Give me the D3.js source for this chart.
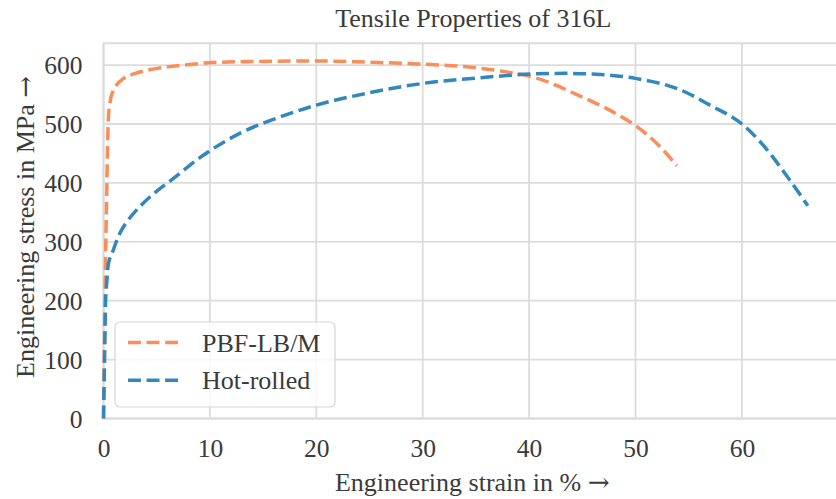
<!DOCTYPE html>
<html>
<head>
<meta charset="utf-8">
<script src="https://cdn.jsdelivr.net/npm/d3@7"></script>
<style>
    body { margin: 0; background: #fff; }
    svg { display: block; font-family: 'Liberation Serif', 'DejaVu Serif', serif; }
</style>
</head>
<body>
<div id="chart"></div>
<script>
// strain in %, stress in MPa
const seriesNames = ['PBF-LB/M', 'Hot-rolled'];
const seriesColors = ['#fc8d59', '#3288bd'];

const pbfStrain = [0, 0.1, 0.2, 0.3, 0.38, 0.45, 0.6, 0.92, 1.3, 1.86, 3, 4.06, 6, 8.1, 9.85, 13.8, 20, 24.7, 29.4, 34.1, 37.3, 40.7, 42.5, 44.1, 45.7, 47.3, 48.8, 50.1, 52, 53.9];
const pbfStress = [0, 150, 280, 380, 460, 507, 535, 557, 568, 577, 586, 591, 597, 601, 604, 606, 607, 605, 602, 597, 590, 578, 566, 553, 540, 526, 511, 496, 467, 429];

const hotStrain = [0, 0.1, 0.2, 0.3, 0.45, 0.92, 1.55, 2.33, 3.59, 5.15, 6.25, 9.38, 12.8, 16.6, 20, 24.7, 30.06, 35.7, 40.4, 43.5, 46.7, 50.1, 54.2, 57, 60, 62, 64.05, 66.2];
const hotStress = [0, 100, 200, 230, 261, 286, 315, 337, 363, 388, 403, 447, 484, 512, 532, 552, 569, 579, 585, 586, 584, 577, 558, 532, 500, 464, 416, 361];

const xTicks = [0, 10, 20, 30, 40, 50, 60];
const yTicks = [0, 100, 200, 300, 400, 500, 600];

const fullWidth = 836;
const fullHeight = 499;

const margin = {
    top: 43.3,
    bottom: 80.5,
    left: 103.5,
    right: -7
};

const width = fullWidth - margin.left - margin.right;
const height = fullHeight - margin.top - margin.bottom;

const textColor = '#3a3a3a';
const gridColor = '#dcdcdc';
const fontSize = 25.5;

const svg = d3.select('#chart')
    .append('svg')
    .attr('width', fullWidth)
    .attr('height', fullHeight);

const g = svg.append('g')
    .attr('transform', `translate(${margin.left}, ${margin.top})`);

const xScale = d3.scaleLinear()
    .domain([0, 69.5])
    .range([0, width]);

const yScale = d3.scaleLinear()
    .domain([0, 637])
    .range([height, 0]);

// grid
g.append('g')
    .selectAll('line')
    .data(xTicks)
    .enter()
    .append('line')
    .attr('x1', d => xScale(d))
    .attr('x2', d => xScale(d))
    .attr('y1', 0)
    .attr('y2', height)
    .attr('stroke', gridColor)
    .attr('stroke-width', 1.8);

g.append('g')
    .selectAll('line')
    .data(yTicks)
    .enter()
    .append('line')
    .attr('x1', 0)
    .attr('x2', width)
    .attr('y1', d => yScale(d))
    .attr('y2', d => yScale(d))
    .attr('stroke', gridColor)
    .attr('stroke-width', 1.8);

// frame
g.append('rect')
    .attr('x', 0)
    .attr('y', 0)
    .attr('width', width)
    .attr('height', height)
    .attr('fill', 'none')
    .attr('stroke', gridColor)
    .attr('stroke-width', 2);

// axes (labels only, no tick marks)
const xAxis = g.append('g')
    .attr('transform', `translate(0, ${height})`)
    .call(d3.axisBottom(xScale).tickValues(xTicks).tickSize(0).tickPadding(20.5));

const yAxis = g.append('g')
    .call(d3.axisLeft(yScale).tickValues(yTicks).tickSize(0).tickPadding(21));

[xAxis, yAxis].forEach(axis => {
    axis.select('.domain').remove();
    axis.selectAll('text')
        .attr('fill', textColor)
        .style('font-family', "'Liberation Serif', serif")
        .style('font-size', `${fontSize}px`);
});
xAxis.selectAll('text').attr('dy', '0.71em');
yAxis.selectAll('text').attr('dy', '0.34em');

// curves
const series = [
    { name: seriesNames[0], color: seriesColors[0], values: pbfStrain.map((s, i) => ({ strain: s, stress: pbfStress[i] })) },
    { name: seriesNames[1], color: seriesColors[1], values: hotStrain.map((s, i) => ({ strain: s, stress: hotStress[i] })) }
];

const line = d3.line()
    .x(d => xScale(d.strain))
    .y(d => yScale(d.stress))
    .curve(d3.curveMonotoneX);

const dash = '12.95, 5.6';

g.selectAll('.curve')
    .data(series)
    .enter()
    .append('path')
    .attr('class', 'curve')
    .attr('d', d => line(d.values))
    .attr('fill', 'none')
    .attr('stroke', d => d.color)
    .attr('stroke-width', 3.5)
    .attr('stroke-dasharray', dash);

// legend
const legend = svg.append('g')
    .attr('transform', 'translate(115, 322)');

legend.append('rect')
    .attr('width', 220)
    .attr('height', 85)
    .attr('rx', 5)
    .attr('fill', 'rgba(255,255,255,0.8)')
    .attr('stroke', '#d5d5d5')
    .attr('stroke-width', 1.2);

const legendItem = legend.selectAll('.item')
    .data(series)
    .enter()
    .append('g')
    .attr('transform', (d, i) => `translate(0, ${20.5 + i * 37.7})`);

legendItem.append('line')
    .attr('x1', 13)
    .attr('x2', 66)
    .attr('stroke', d => d.color)
    .attr('stroke-width', 3.5)
    .attr('stroke-dasharray', dash);

legendItem.append('text')
    .attr('x', 87)
    .attr('dy', '0.35em')
    .attr('fill', textColor)
    .style('font-size', '26px')
    .text(d => d.name);

// title and axis labels
svg.append('text')
    .attr('x', margin.left + width / 2)
    .attr('y', 27)
    .attr('text-anchor', 'middle')
    .attr('fill', textColor)
    .style('font-size', '26px')
    .text('Tensile Properties of 316L');

const addLabel = (sel, label) => {
    sel.append('tspan').text(label + ' ');
    sel.append('tspan')
        .style('font-family', "'DejaVu Serif', serif")
        .text('\u2192');
};

svg.append('text')
    .attr('x', margin.left + width / 2 - 1)
    .attr('y', 491)
    .attr('text-anchor', 'middle')
    .attr('fill', textColor)
    .style('font-size', '26px')
    .call(addLabel, 'Engineering strain in %');

svg.append('text')
    .attr('transform', `translate(34, ${margin.top + height / 2 - 4}) rotate(-90)`)
    .attr('text-anchor', 'middle')
    .attr('fill', textColor)
    .style('font-size', '26px')
    .call(addLabel, 'Engineering stress in MPa');
</script>
</body>
</html>
